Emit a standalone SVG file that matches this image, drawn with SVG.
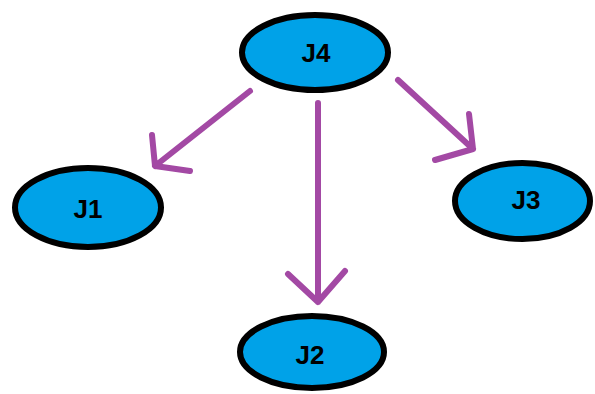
<svg xmlns="http://www.w3.org/2000/svg" width="595" height="394" viewBox="0 0 595 394">
<style>
.node ellipse{fill:#00A2E8;stroke:#000;stroke-width:6}
.node text{font-family:"Liberation Sans",Arial,sans-serif;font-weight:bold;font-size:26px;fill:#000;text-anchor:middle;dominant-baseline:central}
.edge{fill:none;stroke:#A349A4;stroke-width:6;stroke-linecap:round;stroke-linejoin:round}
</style>
<rect width="595" height="394" fill="#fff"/>
<g id="connectors">
<path class="edge" d="M250,91 L155,166 M152,135 L155,166 L190,171"/>
<path class="edge" d="M318,103 L318,302 M288,274 L318,302 L345,271"/>
<path class="edge" d="M398,80 L473,149 M469,114 L473,149 L435,160"/>
</g>
<g id="J4" class="node"><ellipse cx="315" cy="52.5" rx="73" ry="37.5"/><text x="316" y="53">J4</text></g>
<g id="J1" class="node"><ellipse cx="88" cy="207.5" rx="73" ry="39.5"/><text x="88" y="209">J1</text></g>
<g id="J3" class="node"><ellipse cx="522.5" cy="201" rx="67.5" ry="38"/><text x="526" y="200">J3</text></g>
<g id="J2" class="node"><ellipse cx="312" cy="352" rx="72" ry="36"/><text x="310" y="355">J2</text></g>
</svg>
